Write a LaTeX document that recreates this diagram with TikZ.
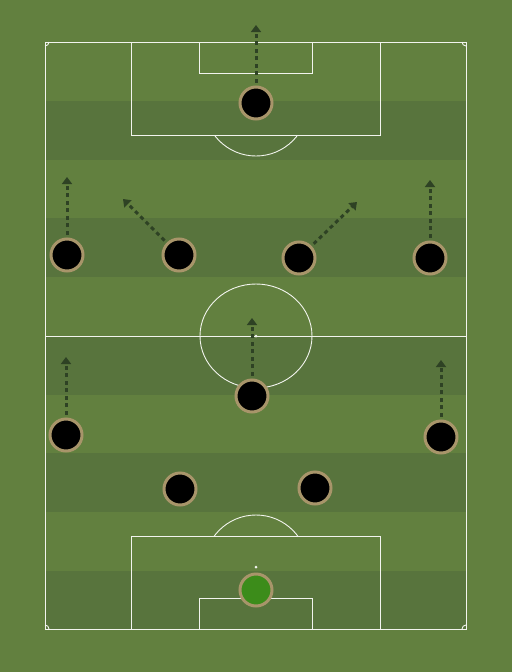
\documentclass[tikz,border=0pt]{standalone}
\usetikzlibrary{arrows.meta}
\definecolor{grass}{HTML}{62803F}
\definecolor{stripe}{HTML}{58743D}
\definecolor{pline}{HTML}{F2F4EE}
\definecolor{ring}{HTML}{A8956A}
\definecolor{keeper}{HTML}{3C8C1A}
\definecolor{runc}{HTML}{2E4224}
\tikzset{
  pitchline/.style={draw=pline, line width=0.9pt},
  player/.style={circle, fill=black, draw=ring, line width=3pt, minimum size=32pt, inner sep=0pt},
  gk/.style={player, fill=keeper},
  run/.style={draw=runc, line width=3pt, dash pattern=on 4pt off 3.5pt, shorten <=3pt,
    -{Triangle[length=7pt,width=10pt]}}
}
\begin{document}
\begin{tikzpicture}[x=1pt,y=-1pt]
\fill[grass] (0,0) rectangle (512,672);
\useasboundingbox (0,0) rectangle (512,672);
% stripes
\foreach \y in {101,218.4,336,453.4,570.8}
  \fill[stripe] (45,\y) rectangle (466,\y+58.7);
% pitch outline
\draw[pitchline] (45,42) rectangle (466,629);
\draw[pitchline] (45,336) -- (466,336);
\draw[pitchline] (256,336) ellipse [x radius=56, y radius=52];
\fill[pline] (256,336) circle (1.5);
% top boxes
\draw[pitchline] (131,42) rectangle (380,135);
\draw[pitchline] (199,42) rectangle (312,73);
\begin{scope}
\clip (100,135) rectangle (420,200);
\draw[pitchline] (256,104) circle (52);
\end{scope}
% bottom boxes
\draw[pitchline] (131,629) rectangle (380,536);
\draw[pitchline] (199,629) rectangle (312,598);
\begin{scope}
\clip (100,536) rectangle (420,470);
\draw[pitchline] (256,567) circle (52);
\end{scope}
\fill[pline] (256,567) circle (1.5);
% corner arcs
\draw[pitchline] (49,42) arc[start angle=0, end angle=90, radius=4];
\draw[pitchline] (462,42) arc[start angle=180, end angle=90, radius=4];
\draw[pitchline] (49,629) arc[start angle=0, end angle=-90, radius=4];
\draw[pitchline] (462,629) arc[start angle=180, end angle=270, radius=4];
% players
\node[gk] (gk) at (256,590) {};
\node[player] (cb1) at (180,489) {};
\node[player] (cb2) at (315,488) {};
\node[player] (lb) at (66,435) {};
\node[player] (dm) at (252,396) {};
\node[player] (rb) at (441,437) {};
\node[player] (lm) at (67,255) {};
\node[player] (cm1) at (179,255) {};
\node[player] (cm2) at (299,258) {};
\node[player] (rm) at (430,258) {};
\node[player] (st) at (256,103) {};
% run targets
\coordinate (tst) at (256,25);
\coordinate (tlm) at (67,177);
\coordinate (tcm1) at (123,199);
\coordinate (tcm2) at (357,202);
\coordinate (trm) at (430,180);
\coordinate (tdm) at (252,318);
\coordinate (tlb) at (66,357);
\coordinate (trb) at (441,360);
% runs
\draw[run] (st) -- (tst);
\draw[run] (lm) -- (tlm);
\draw[run] (cm1) -- (tcm1);
\draw[run] (cm2) -- (tcm2);
\draw[run] (rm) -- (trm);
\draw[run] (dm) -- (tdm);
\draw[run] (lb) -- (tlb);
\draw[run] (rb) -- (trb);
\end{tikzpicture}
\end{document}
